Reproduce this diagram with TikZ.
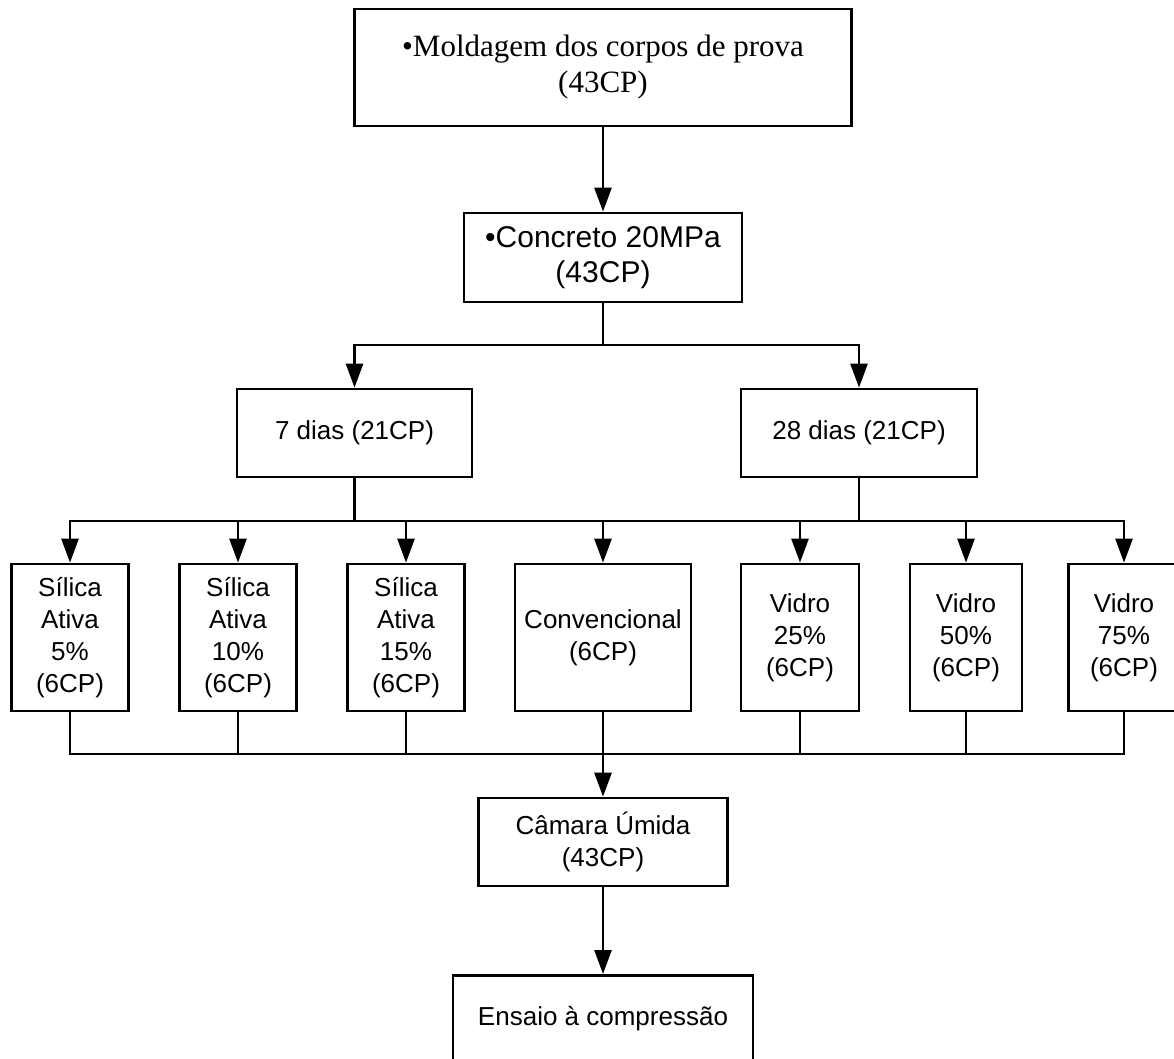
\documentclass[tikz,border=0pt]{standalone}
\usepackage{fontspec}
\setmainfont{Liberation Serif}
\setsansfont{Liberation Sans}
\usetikzlibrary{arrows.meta}

\tikzset{
	box/.style={rectangle, draw=black, line width=2.7pt, fill=white, align=center, inner sep=4pt, font=\sffamily\fontsize{26}{32}\selectfont},
	arr/.style={-{Triangle[length=24pt,width=17pt]}},
	wire/.style={line width=2.7pt, line cap=rect}
}

\begin{document}
\begin{tikzpicture}[x=1pt,y=-1pt]
		\clip (0,0) rectangle (1174,1059);
		\def\xm{603}
		\def\yr{637.5}
		\node[box, font=\rmfamily\fontsize{31}{36}\selectfont, minimum width=497, minimum height=117] (mold) at (\xm, 67.5) {•Moldagem dos corpos de prova\\(43CP)};
		\node[box, font=\sffamily\fontsize{30}{35}\selectfont, minimum width=278, minimum height=89] (conc) at (\xm, 257.5) {•Concreto 20MPa\\(43CP)};
		\node[box, minimum width=235, minimum height=88] (d7) at (354.5, 433) {7 dias (21CP)};
		\node[box, minimum width=236, minimum height=88] (d28) at (859, 433) {28 dias (21CP)};
		\node[box, minimum width=117, minimum height=147] (s5) at (70, \yr) {Sílica\\Ativa\\5\%\\(6CP)};
		\node[box, minimum width=117, minimum height=147] (s10) at (238, \yr) {Sílica\\Ativa\\10\%\\(6CP)};
		\node[box, minimum width=117, minimum height=147] (s15) at (406, \yr) {Sílica\\Ativa\\15\%\\(6CP)};
		\node[box, minimum width=176, minimum height=147] (conv) at (\xm, \yr) {Convencional\\(6CP)};
		\node[box, minimum width=118, minimum height=147] (v25) at (800, \yr) {Vidro\\25\%\\(6CP)};
		\node[box, minimum width=112, minimum height=147] (v50) at (966, \yr) {Vidro\\50\%\\(6CP)};
		\node[box, minimum width=111, minimum height=147] (v75) at (1124, \yr) {Vidro\\75\%\\(6CP)};
		\node[box, minimum width=249, minimum height=88] (cam) at (\xm, 842) {Câmara Úmida\\(43CP)};
		\node[box, anchor=north, minimum width=300, text height=20pt, text depth=80pt, inner ysep=30pt] (ens) at (\xm, 974) {Ensaio à compressão};
		\coordinate (split) at (\xm, 345);
		\coordinate (br) at (\xm, 521);
		\coordinate (mg) at (\xm, 754);
		\draw[wire, arr] (mold) -- (conc);
		\draw[wire, arr] (conc) -- (split) -| (d7);
		\draw[wire, arr] (conc) -- (split) -| (d28);
		\draw[wire] (d7) -- (d7 |- br);
		\draw[wire] (d28) -- (d28 |- br);
		\draw[wire] (s5 |- br) -- (v75 |- br);
		\foreach \n in {s5,s10,s15,conv,v25,v50,v75} {
			\draw[wire, arr] (\n |- br) -- (\n);
			\draw[wire] (\n) -- (\n |- mg);
		}
		\draw[wire] (s5 |- mg) -- (v75 |- mg);
		\draw[wire, arr] (mg) -- (cam);
		\draw[wire, arr] (cam) -- (ens);
	\end{tikzpicture}
\end{document}
